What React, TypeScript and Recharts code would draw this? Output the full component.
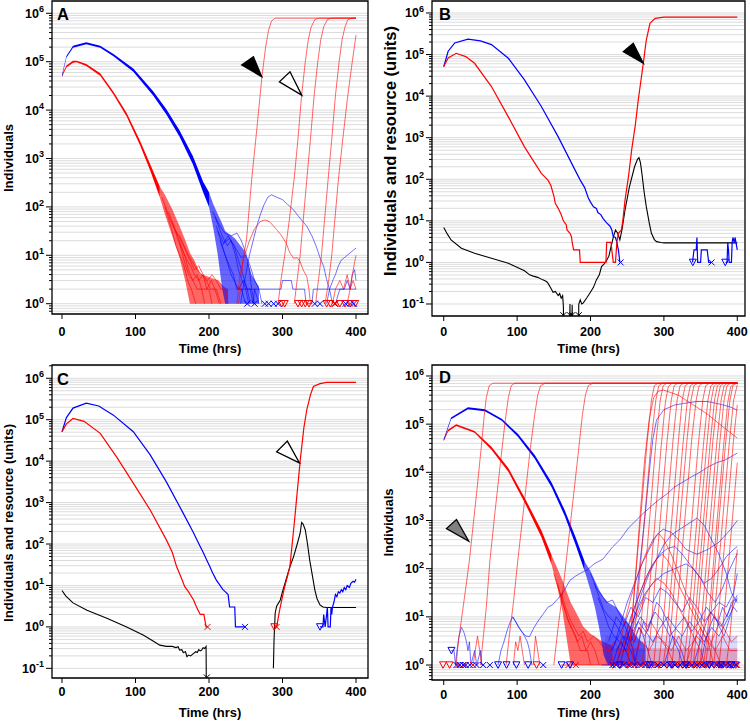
import React from 'react';
import { ComposedChart, Line, Area, XAxis, YAxis, CartesianGrid, ReferenceArea } from 'recharts';

const FONT = '"Liberation Sans", Arial, Helvetica, sans-serif';
const RED = '#ff0000';
const BLUE = '#0000ff';
const BLACK = '#000000';
const GRAY = '#808080';

const timeTicks = [0, 100, 200, 300, 400];
const decades = [-1, 0, 1, 2, 3, 4, 5, 6];
const mantissas = [1, 2, 3, 4, 5, 6, 7, 8, 9];

// All values below: [time (hrs), log10(count)] or [time, log10(low), log10(high)]

// ---------------- Panel A ----------------
const aRedCore = [[0,4.69,4.73],[6,4.88,4.92],[15,4.98,5.02],[20,4.99,5.02],[33,4.91,4.95],[52,4.71,4.76],[70,4.32,4.38],[88,3.87,3.94],[106,3.28,3.37],[120,2.75,2.88],[133,2.2,2.42]];
const aRedFan = [[133,2.2,2.42],[140,1.85,2.25],[150,1.4,1.95],[160,0.95,1.6],[168,0.45,1.3],[174,0,1.05],[180,0,0.9],[188,0,0.62],[200,0,0.55],[213,0,0.48],[220,0,0.35],[226,0,0.3]];
const aBlueCore = [[0,4.69,4.73],[6,5.08,5.12],[15,5.29,5.33],[33,5.36,5.4],[52,5.29,5.33],[70,5.11,5.16],[97,4.79,4.86],[124,4.3,4.39],[142,3.91,4.02],[160,3.45,3.58],[178,2.88,3.05],[192,2.3,2.52],[200,2.0,2.3]];
const aBlueFan = [[200,2.0,2.3],[206,1.55,2.05],[212,1.0,1.85],[218,0.3,1.65],[222,0,1.5],[235,0,1.35],[248,0,1.1],[258,0,0.6],[268,0,0.35]];
const aRedTail1 = [[145,1.9],[152,1.6],[158,1.3],[164,1.1],[170,0.9],[175,0.78],[180,0.6],[186,0.48],[192,0.6],[197,0.3],[203,0.48],[208,0.3],[214,0]];
const aRedTail2 = [[150,1.7],[156,1.45],[162,1.2],[168,0.95],[172,0.7],[178,0.48],[184,0.3],[190,0.3],[194,0]];
const aRedTail3 = [[140,2.0],[148,1.6],[155,1.2],[160,1.0],[166,0.78],[171,0.48],[176,0.3],[182,0]];
const aRedTail4 = [[155,1.5],[162,1.3],[168,1.1],[174,0.9],[180,0.7],[186,0.78],[192,0.6],[198,0.48],[204,0.6],[210,0.48],[216,0.3],[222,0.3],[226,0]];
const aRedTail5 = [[160,1.25],[166,0.9],[172,0.6],[178,0.48],[184,0.6],[190,0.3],[200,0.3],[204,0]];
const aRedTail6 = [[136,2.2],[142,1.95],[148,1.7],[154,1.5],[160,1.4],[166,1.2],[172,1.0],[178,0.85],[184,0.7],[190,0.6],[196,0.48],[202,0.3],[210,0.3],[216,0]];
const aBlueTail1 = [[205,1.9],[215,1.6],[222,1.45],[230,1.4],[238,1.46],[244,1.3],[250,1.05],[255,0.7],[258,0.3],[262,0]];
const aBlueTail2 = [[208,1.8],[218,1.4],[225,1.2],[230,1.3],[236,1.0],[240,0.7],[245,0.48],[250,0.3],[254,0]];
const aBlueTail3 = [[210,1.6],[218,1.2],[224,0.9],[230,0.6],[234,0.48],[240,0.3],[247,0.48],[252,0.3],[256,0]];
const aBlueTail4 = [[212,1.5],[220,1.25],[228,1.35],[234,1.2],[240,0.9],[246,0.6],[252,0.3],[262,0.3],[268,0]];
const aBlueTail5 = [[215,1.3],[222,1.0],[228,0.78],[233,0.6],[238,0.3],[244,0.3],[250,0]];
const aBlueTail6 = [[218,1.2],[226,1.4],[232,1.25],[238,1.1],[244,0.95],[250,1.0],[256,0.78],[262,0.48],[268,0.3],[272,0]];
const aBlueTwo = [[240,0.3],[256,0.3],[260,0],[262,0.3],[298,0.3],[300,0.48],[312,0.48],[314,0.3],[330,0.3],[332,0],[340,0],[342,0.3],[400,0.3]];
const aBlueHump = [[243,0],[246,0.3],[250,0.6],[255,1.0],[260,1.3],[265,1.6],[270,1.85],[275,2.05],[280,2.2],[285,2.25],[292,2.2],[300,2.15],[307,2.05],[315,1.94],[322,1.8],[333,1.6],[340,1.4],[346,1.18],[351,0.95],[356,0.77],[360,0.5],[364,0.29],[368,0]];
const aRedHump = [[238,0],[242,0.6],[248,0.98],[255,1.3],[262,1.55],[270,1.7],[276,1.73],[282,1.7],[288,1.6],[292,1.53],[298,1.42],[305,1.25],[310,1.05],[315,0.94],[320,0.95],[324,0.87],[328,0.7],[333,0.56],[336,0.3],[338,0]];
const aBlueEnd1 = [[360,0],[364,0.3],[369,0.5],[372,0.6],[376,0.78],[380,0.9],[384,0.95],[388,1.0],[392,1.05],[396,1.1],[400,1.15]];
const aBlueEnd2 = [[372,0],[378,0.3],[384,0.3],[388,0.48],[392,0.3],[395,0.6],[398,0.7],[400,0.48]];
const aRedEnd1 = [[388,0],[392,0.3],[395,0.6],[398,0.85],[400,1.0]];
const aRedEnd2 = [[368,0],[372,0.3],[378,0.48],[383,0.3],[388,0.6],[392,0.3],[396,0.48],[400,0.3]];
const aRedRise1 = [[240,0],[243,0.3],[246,0.9],[251,1.32],[258,2.56],[265,3.6],[272,4.69],[277,5.3],[281,5.65],[285,5.84],[290,5.9],[400,5.9]];
const aRedRise2 = [[294,0],[298,0.5],[303,1.0],[309,1.7],[316,2.6],[321,3.4],[326,4.31],[331,5.0],[335,5.45],[339,5.72],[344,5.87],[350,5.9],[400,5.9]];
const aRedRise3 = [[316,0],[320,0.5],[324,1.0],[328,1.7],[333,2.56],[338,3.4],[343,4.3],[348,5.0],[352,5.45],[356,5.72],[361,5.87],[367,5.9],[400,5.9]];
const aRedRise4 = [[345,0],[349,0.5],[353,1.0],[357,1.7],[362,2.56],[367,3.4],[372,4.3],[377,5.0],[381,5.45],[385,5.72],[389,5.87],[395,5.9],[400,5.9]];
const aRedRise5 = [[358,0],[363,0.5],[367,1.0],[371,1.7],[376,2.56],[382,3.4],[388,4.2],[394,4.9],[400,5.55]];
const aRedTri = [299, 303, 321, 326, 331, 336, 360, 365, 378, 385, 392, 399];
const aBlueX = [252, 262, 276, 281, 288, 294, 344, 351, 371, 386, 397];
const aRedX = [372, 392];

// ---------------- Panel B ----------------
const bBlue = [[0,4.71],[6,5.08],[15,5.28],[33,5.37],[50,5.33],[65,5.24],[88,4.91],[110,4.39],[133,3.75],[156,3.02],[179,2.22],[186,1.98],[192,1.8],[197,1.55],[200,1.45],[204,1.34],[208,1.3],[210,1.2],[214,1.15],[217,1.06],[222,0.95],[225,0.9],[227,0.86],[229,0.78],[231,0.62],[234,0.6],[236,0.48],[237,0.38],[238,0.3],[240,0]];
const bRed = [[0,4.71],[6,4.92],[17,5.03],[30,4.95],[42,4.79],[65,4.23],[88,3.5],[110,2.78],[133,2.14],[142,1.98],[146,1.85],[150,1.6],[152,1.42],[156,1.3],[160,1.15],[163,1.0],[167,0.9],[168,0.78],[172,0.7],[174,0.62],[175,0.48],[177,0.3],[185,0.3],[186,0],[221,0],[222,0.48],[228,0.48],[229,0.3],[231,0],[234,0],[236,0.5],[238,0.7],[242,0.78],[244,1.0],[247,1.5],[252,2.1],[256,2.7],[261,3.3],[265,3.9],[272,4.8],[276,5.35],[281,5.75],[288,5.87],[300,5.9],[400,5.9]];
const bBlack = [[0,0.84],[5,0.68],[10,0.54],[24,0.34],[42,0.22],[65,0.1],[88,-0.02],[110,-0.2],[117,-0.3],[122,-0.33],[128,-0.36],[135,-0.42],[140,-0.46],[142,-0.5],[146,-0.62],[149,-0.72],[152,-0.7],[156,-0.8],[158,-0.75],[160,-0.86],[162,-0.8],[163,-1.05],[165,-3],[171,-3],[172,-1.0],[173,-3],[175,-1.02],[176,-3],[183,-3],[184,-1.0],[186,-0.9],[188,-1.0],[190,-0.98],[195,-0.85],[199,-0.74],[204,-0.6],[208,-0.42],[212,-0.3],[215,-0.1],[218,-0.05],[221,0.02],[225,0.15],[228,0.38],[231,0.6],[234,0.78],[237,0.7],[240,0.54],[243,0.8],[247,1.26],[253,1.82],[260,2.3],[264,2.48],[266,2.52],[268,2.4],[270,2.14],[273,1.7],[276,1.34],[280,0.95],[283,0.7],[287,0.55],[290,0.5],[296,0.48],[300,0.47],[400,0.47]];
const bBlueEnd1 = [[339,0],[341,0.3],[344,0.3],[345,0.6],[346,0],[350,0],[351,0.3],[359,0.3],[361,0],[365,0]];
const bBlueEnd2 = [[384,0],[386,0],[387,0.48],[388,0.3],[389,0],[392,0],[393,0.48],[394,0.6],[396,0.48],[397,0.6],[398,0.5],[400,0.3]];
const bBlueX = [241, 365];
const bBlueTri = [339.4, 383.6];
const bBlackX = [163, 172, 175, 184];

// ---------------- Panel C ----------------
const cBlue = [[0,4.71],[6,5.05],[15,5.28],[33,5.4],[50,5.33],[70,5.11],[97,4.71],[120,4.15],[142,3.5],[165,2.74],[178,2.3],[188,1.94],[192,1.8],[197,1.61],[200,1.5],[205,1.3],[210,1.13],[215,1.0],[219,0.9],[222,0.85],[226,0.78],[228,0.48],[235,0.48],[236,0],[249,0]];
const cRed = [[0,4.71],[6,4.9],[15,5.03],[30,4.96],[52,4.67],[74,4.11],[97,3.47],[120,2.82],[142,2.1],[150,1.8],[156,1.45],[162,1.2],[167,0.97],[172,0.85],[179,0.65],[183,0.48],[188,0.3],[193,0.3],[196,0],[198,0]];
const cBlack1 = [[0,0.88],[5,0.75],[15,0.58],[34,0.4],[61,0.21],[88,0.0],[111,-0.2],[125,-0.35],[133,-0.44],[142,-0.47],[150,-0.47],[155,-0.5],[158,-0.48],[160,-0.56],[163,-0.55],[165,-0.62],[168,-0.6],[170,-0.72],[172,-0.68],[175,-0.7],[179,-0.64],[182,-0.6],[184,-0.62],[186,-0.55],[188,-0.58],[190,-0.56],[192,-0.5],[194,-0.52],[196,-0.47],[197,-3]];
const cBlack2 = [[287.6,-1.0],[288.5,-0.3],[290,0.33],[292,0.5],[297,0.65],[300,0.85],[306,1.21],[310,1.45],[315,1.69],[320,2.0],[324,2.26],[326,2.52],[328,2.48],[331,2.34],[334,2.0],[337,1.61],[341,1.2],[344,0.89],[347,0.68],[351,0.53],[355,0.48],[360,0.47],[400,0.47]];
const cRedRise = [[288.8,0],[292,0],[296,0.4],[302,0.9],[310,1.45],[316,2.5],[324,4.0],[329,4.8],[333,5.24],[338,5.6],[342,5.8],[351,5.87],[360,5.9],[400,5.9]];
const cBlueEnd = [[351,0],[355,0],[356,0.3],[358,0],[360,0.3],[361,0.48],[362,0],[365,0],[366,0.48],[367,0.3],[368,0.48],[370,0.6],[372,0.78],[374,0.73],[376,0.85],[378,0.82],[380,0.9],[382,0.85],[384,0.95],[386,0.9],[388,1.0],[391,0.95],[393,1.05],[396,1.1],[398,1.08],[400,1.15]];
const cRedX = [198, 292];
const cRedTri = [288.8];
const cBlueX = [249];
const cBlueTri = [351];
const cBlackX = [197];

// ---------------- Panel D ----------------
const dRedCore = [[0,4.65,4.69],[6,4.85,4.89],[17,4.96,5.0],[42,4.82,4.86],[65,4.47,4.53],[88,4.01,4.09],[110,3.38,3.48],[133,2.66,2.8],[147,2.08,2.28]];
const dRedFan = [[147,2.08,2.28],[155,1.6,2.0],[162,1.1,1.75],[168,0.5,1.5],[173,0,1.3],[180,0,1.1],[190,0,0.8],[200,0,0.65],[215,0,0.5],[230,0,0.4]];
const dBlueCore = [[0,4.65,4.69],[10,5.1,5.14],[33,5.31,5.35],[56,5.27,5.31],[79,5.07,5.11],[101,4.74,4.8],[124,4.28,4.36],[147,3.69,3.79],[165,3.09,3.21],[179,2.52,2.68],[192,1.95,2.15]];
const dBlueFan = [[192,1.95,2.15],[200,1.55,1.95],[206,1.2,1.75],[212,0.75,1.55],[218,0.2,1.4],[224,0,1.3],[235,0,1.2],[250,0,0.9],[262,0,0.6],[275,0,0.4]];
const dRedFloor = [[230,0,0.35],[400,0,0.35]];
const dBlueFloor = [[220,0,0.6],[400,0,0.6]];
const dEarly1 = [[17,0],[20,0.5],[24,0.93],[30,1.6],[35,2.18],[45,3.6],[51,4.5],[55,5.15],[58,5.55],[62,5.8],[67,5.85],[400,5.85]];
const dEarly2 = [[50,0],[54,0.6],[58,1.2],[63,2.18],[70,3.2],[78,4.3],[84,5.1],[88,5.55],[92,5.8],[97,5.85],[400,5.85]];
const dEarly3 = [[85,0],[90,0.7],[95,1.3],[101,2.18],[110,3.4],[118,4.5],[124,5.2],[128,5.6],[132,5.8],[138,5.85],[400,5.85]];
const dEarly4 = [[150,0],[156,0.8],[162,1.5],[167,2.18],[176,3.4],[184,4.5],[189,5.2],[193,5.6],[197,5.8],[203,5.85],[400,5.85]];
const dLate01 = [[250,0],[255,0.7],[277,4.6],[283,5.5],[287,5.8],[292,5.85],[400,5.85]];
const dLate02 = [[256,0],[261,0.8],[283,4.7],[289,5.5],[293,5.8],[298,5.85],[400,5.85]];
const dLate03 = [[262,0],[268,0.7],[289,4.6],[295,5.5],[299,5.8],[304,5.85],[400,5.85]];
const dLate04 = [[270,0],[275,0.6],[296,4.5],[302,5.45],[306,5.78],[311,5.85],[400,5.85]];
const dLate05 = [[277,0],[282,0.7],[304,4.6],[310,5.5],[314,5.8],[319,5.85],[400,5.85]];
const dLate06 = [[286,0],[291,0.8],[312,4.6],[318,5.5],[322,5.8],[327,5.85],[400,5.85]];
const dLate07 = [[293,0],[298,0.7],[320,4.7],[325,5.5],[329,5.8],[334,5.85],[400,5.85]];
const dLate08 = [[299,0],[304,0.6],[326,4.6],[332,5.5],[336,5.8],[341,5.85],[400,5.85]];
const dLate09 = [[304,0],[309,0.7],[331,4.6],[337,5.5],[341,5.8],[346,5.85],[400,5.85]];
const dLate10 = [[311,0],[316,0.8],[338,4.7],[344,5.5],[348,5.8],[353,5.85],[400,5.85]];
const dLate11 = [[320,0],[325,0.7],[347,4.6],[353,5.5],[357,5.8],[362,5.85],[400,5.85]];
const dLate12 = [[327,0],[332,0.7],[354,4.6],[360,5.5],[364,5.8],[369,5.85],[400,5.85]];
const dLate13 = [[331,0],[336,0.6],[358,4.5],[364,5.45],[368,5.78],[373,5.85],[400,5.85]];
const dLate14 = [[336,0],[341,0.7],[363,4.6],[369,5.5],[373,5.8],[378,5.85],[400,5.85]];
const dLate15 = [[340,0],[345,0.8],[367,4.7],[373,5.5],[377,5.8],[382,5.85],[400,5.85]];
const dLate16 = [[345,0],[350,0.7],[372,4.6],[378,5.5],[382,5.8],[387,5.85],[400,5.85]];
const dLate17 = [[349,0],[354,0.7],[376,4.6],[382,5.5],[386,5.8],[391,5.85],[400,5.85]];
const dLate18 = [[354,0],[359,0.6],[381,4.5],[387,5.45],[391,5.78],[396,5.85],[400,5.85]];
const dLate19 = [[357,0],[362,0.7],[384,4.6],[390,5.5],[394,5.8],[399,5.85],[400,5.85]];
const dLate20 = [[362,0],[367,0.7],[389,4.6],[395,5.5],[400,5.82]];
const dLate21 = [[368,0],[373,0.8],[395,4.7],[400,5.4]];
const dLate22 = [[375,0],[380,0.7],[400,4.2]];
const dLate23 = [[385,0],[390,0.6],[400,2.4]];
const dRedDecline = [[250,0],[256,0.8],[262,2.0],[268,3.2],[274,4.3],[280,5.1],[286,5.55],[292,5.68],[299,5.71],[320,5.6],[340,5.4],[360,5.2],[380,4.95],[400,4.71]];
const dRedHump1 = [[235,0],[245,0.8],[255,1.4],[265,1.9],[275,2.3],[285,2.6],[293,2.73],[300,2.6],[310,2.3],[320,1.9],[330,1.5],[340,1.2],[350,0.9],[360,0.6],[370,0.3],[378,0]];
const dRedHump2 = [[240,0],[250,0.7],[260,1.2],[270,1.6],[280,1.95],[290,2.2],[298,2.3],[306,2.15],[314,1.9],[322,1.6],[332,1.3],[342,1.0],[352,0.7],[360,0.48],[368,0]];
const dRedHump3 = [[250,0.3],[260,0.9],[270,1.3],[280,1.6],[290,1.8],[300,1.7],[310,1.5],[320,1.2],[330,0.9],[340,0.6],[350,0.3],[356,0]];
const dRedNoise1 = [[40,0],[43,0.3],[46,0.6],[49,0.3],[52,0]];
const dRedNoise2 = [[95,0],[98,0.48],[101,0.3],[104,0.6],[107,0.3],[110,0]];
const dRedNoise3 = [[122,0],[125,0.6],[128,0.3],[131,0]];
const dRedNoise4 = [[225,0.3],[232,0.48],[240,0.3],[250,0.6],[260,0.3],[270,0.48],[280,0.3],[290,0.6],[300,0.48],[310,0.3],[320,0.6],[330,0.3],[340,0.48],[350,0.78],[360,0.48],[370,0.3],[380,0.6],[390,0.3],[400,0.3]];
const dRedNoise5 = [[235,0],[242,0.3],[250,0.3],[258,0.48],[266,0.78],[274,0.6],[282,0.9],[290,0.7],[298,0.48],[306,0.3],[314,0],[330,0],[336,0.3],[344,0.6],[352,0.48],[360,0.3],[368,0.6],[376,0.9],[384,0.7],[392,0.48],[400,0.6]];
const dRedTail1 = [[150,1.9],[158,1.5],[164,1.2],[170,0.9],[176,0.7],[182,0.48],[188,0.6],[194,0.3],[200,0.48],[206,0.3],[212,0]];
const dRedTail2 = [[155,1.7],[162,1.3],[168,1.0],[174,0.78],[180,0.6],[186,0.3],[196,0.3],[200,0]];
const dRedTail3 = [[160,1.5],[166,1.2],[172,0.95],[178,0.78],[184,0.6],[190,0.7],[196,0.48],[204,0.6],[212,0.48],[220,0.3],[228,0.3],[232,0]];
const dRedOne = [[160,0],[400,0]];
const dBlueLong = [[74,0],[78,0.3],[82,0.48],[86,0.7],[90,0.87],[94,1.0],[100,0.85],[106,0.7],[112,0.6],[117,0.59],[122,0.75],[128,0.9],[136,1.07],[142,1.2],[148,1.25],[154,1.35],[160,1.45],[166,1.6],[172,1.76],[180,1.85],[188,1.92],[195,1.97],[205,2.1],[217,2.2],[230,2.45],[240,2.6],[252,2.85],[262,3.0],[272,3.15],[283,3.3],[293,3.43],[304,3.55],[315,3.7],[326,3.8],[338,3.91],[349,4.0],[361,4.12],[372,4.2],[384,4.26],[392,4.33],[400,4.4]];
const dBlueEarly1 = [[10,0.3],[14,0.3],[16,0],[18,0.3],[21,0.6],[24,0.78],[27,0.7],[29,0.6],[31,0.48],[33,0.3],[35,0.48],[37,0],[42,0.3],[45,0],[50,0.3],[52,0]];
const dBlueEarly2 = [[94,1.0],[98,0.9],[102,0.78],[106,0.7],[110,0.6],[114,0.48],[117,0.3],[120,0]];
const dBlueBig = [[255,0.5],[262,1.3],[268,2.2],[275,3.2],[280,4.0],[285,4.7],[290,5.09],[300,5.3],[315,5.4],[327,5.43],[345,5.47],[359,5.47],[375,5.42],[390,5.36],[400,5.29]];
const dBlueH1 = [[240,0],[250,0.6],[260,1.0],[270,1.5],[280,1.9],[290,2.2],[300,2.5],[310,2.7],[320,2.8],[330,2.9],[345,3.05],[355,2.9],[365,2.6],[375,2.3],[385,1.9],[392,1.5],[400,1.3]];
const dBlueH2 = [[230,0.3],[240,0.8],[250,1.3],[260,1.7],[270,2.1],[280,2.4],[290,2.7],[299,2.82],[310,2.75],[320,2.6],[330,2.4],[345,2.3],[360,2.4],[375,2.55],[390,2.8],[400,3.0]];
const dBlueH3 = [[235,0],[245,0.5],[255,1.0],[265,1.4],[275,1.8],[285,2.1],[295,2.3],[305,2.42],[315,2.46],[325,2.3],[335,2.1],[345,1.9],[355,1.7],[365,1.8],[375,2.0],[385,2.25],[395,2.4],[400,2.46]];
const dBlueH4 = [[245,0.3],[255,0.8],[265,1.2],[275,1.5],[285,1.7],[300,1.9],[315,2.0],[330,2.1],[340,2.0],[350,1.8],[360,1.5],[370,1.3],[380,1.6],[390,2.0],[400,2.32]];
const dBlueH5 = [[225,0.5],[235,1.0],[245,0.8],[255,1.2],[265,1.0],[275,1.4],[285,1.3],[295,1.6],[305,1.5],[315,1.3],[325,1.1],[335,1.4],[345,1.2],[355,0.9],[365,1.1],[375,1.3],[385,1.2],[395,1.5],[400,1.9]];
const dBlueH6 = [[228,0.3],[238,0.6],[248,0.9],[258,0.7],[268,1.0],[278,0.8],[288,1.1],[298,0.9],[308,0.6],[318,0.8],[328,1.0],[338,0.7],[348,0.9],[358,1.2],[368,1.0],[378,0.8],[388,1.1],[396,1.35],[400,1.35]];
const dBlueH7 = [[230,0],[236,0.3],[242,0.48],[248,0.3],[254,0.6],[260,0.48],[266,0.78],[272,0.6],[278,0.3],[284,0],[300,0],[306,0.3],[312,0.6],[318,0.48],[324,0.3],[330,0],[350,0],[356,0.48],[362,0.78],[368,1.0],[374,0.9],[380,1.2],[386,1.0],[392,1.3],[398,1.4],[400,1.45]];
const dBlueH8 = [[260,0],[266,0.48],[272,0.9],[278,0.7],[284,1.0],[290,1.3],[296,1.2],[302,1.0],[308,0.78],[314,0.48],[320,0.3],[326,0],[340,0],[346,0.3],[352,0.6],[358,0.9],[364,1.1],[370,1.0],[376,0.78],[382,0.6],[388,0.9],[394,1.2],[400,1.4]];
const dBlueTail1 = [[200,1.9],[208,1.6],[215,1.45],[222,1.3],[230,1.35],[238,1.1],[245,0.9],[252,0.6],[258,0.3],[262,0]];
const dBlueTail2 = [[205,1.7],[212,1.4],[218,1.15],[225,1.0],[232,0.9],[240,0.7],[248,0.48],[255,0.3],[262,0]];
const dBlueTail3 = [[210,1.4],[218,1.1],[225,0.78],[232,0.6],[240,0.48],[248,0.3],[256,0]];
const dBlueNoise = [[235,0.3],[245,0.6],[255,0.48],[265,0.9],[275,0.7],[285,0.48],[295,0.78],[305,1.0],[315,0.78],[325,0.6],[335,0.9],[345,0.7],[355,0.48],[365,0.78],[375,0.6],[385,0.9],[395,1.2],[400,1.1]];
const dBlueOne = [[215,0],[400,0]];
const dRedTri = [-1, 8, 126.5, 230, 240, 250, 262, 277, 283, 293, 304, 312, 320, 325, 331, 340, 345, 349, 357, 362, 368, 375, 380, 385, 390, 395, 398];
const dBlueTri = [74, 85.6, 99, 115, 160.6, 172, 240, 280, 310, 330, 362, 378, 392];
const dBlueTriTwo = [10.5];
const dBlueX = [17.3, 22, 26.4, 30, 35.5, 44.6, 53.7, 62.8, 135.6, 230, 235, 245, 252, 260, 268, 275, 283, 292, 300, 308, 315, 322, 330, 338, 345, 352, 358, 365, 372, 378, 384, 390, 398];
const dRedX = [20, 28, 40, 170, 180, 255, 270, 290, 315, 335, 355, 375, 390, 400];

// ---------------- rendering ----------------
type S = { pts: number[][]; color: string; w: number; op?: number };
type B = { rows: number[][]; color: string; op: number };
type M = { ts: number[]; color: string; kind: 'tri' | 'x'; at?: number };
type Arw = { t: number; l: number; fill: string; poly: number[][] };
type Cfg = {
  left: number; top: number; width: number; height: number;
  margin: { top: number; right: number; bottom: number; left: number };
  yW: number; xH: number; tickMargin: number;
  xDom: [number, number]; yLog: [number, number];
  bands: B[]; lines: S[]; marks: M[]; arrows: Arw[];
};

const pow = (l: number) => Math.pow(10, l);
const lineData = (pts: number[][]) => pts.map(([t, l]) => ({ t, v: pow(l) }));
const bandData = (rows: number[][]) => rows.map(([t, lo, hi]) => ({ t, r: [pow(lo), pow(hi)] }));

function markShape(kind: 'tri' | 'x', color: string) {
  return (p: any) => {
    const { cx, cy, index } = p;
    if (cx == null || cy == null) return <g key={`k${index}`} />;
    if (kind === 'tri')
      return <path key={`k${index}`} d={`M${cx - 3.5},${cy - 3.2}L${cx + 3.5},${cy - 3.2}L${cx},${cy + 3.3}Z`} fill="none" stroke={color} strokeWidth={1} />;
    return <path key={`k${index}`} d={`M${cx - 3},${cy - 3}L${cx + 3},${cy + 3}M${cx - 3},${cy + 3}L${cx + 3},${cy - 3}`} fill="none" stroke={color} strokeWidth={1} />;
  };
}

function arrowShape(a: Arw) {
  return (p: any) => {
    const { cx, cy, index } = p;
    if (cx == null || cy == null) return <g key={`a${index}`} />;
    const d = a.poly.map(([dx, dy], i) => `${i ? 'L' : 'M'}${cx + dx},${cy + dy}`).join('') + 'Z';
    return <path key={`a${index}`} d={d} fill={a.fill} stroke="#000" strokeWidth={1.3} strokeLinejoin="miter" />;
  };
}

function Panel({ c }: { c: Cfg }) {
  const yDom: [number, number] = [pow(c.yLog[0]), pow(c.yLog[1])];
  const yTicks: number[] = [];
  decades.forEach((k) => mantissas.forEach((m) => {
    const v = m * pow(k);
    if (v >= yDom[0] && v <= yDom[1]) yTicks.push(v);
  }));
  const boxLeft = c.margin.left + c.yW;
  const yTick = (p: any) => {
    const v = p.payload.value;
    const lg = Math.log10(v);
    const k = Math.round(lg);
    const major = Math.abs(lg - k) < 1e-6;
    const y = p.y;
    return (
      <g key={`yt${v}`}>
        <line x1={boxLeft - (major ? 6 : 3)} x2={boxLeft} y1={y} y2={y} stroke="#000" strokeWidth={1} />
        {major ? (
          <text x={boxLeft - 8} y={y + 4.5} textAnchor="end" fontFamily={FONT} fontWeight={700} fontSize={12.5} fill="#000">
            10<tspan dy={-5.5} fontSize={9}>{k}</tspan>
          </text>
        ) : null}
      </g>
    );
  };
  return (
    <div style={{ position: 'absolute', left: c.left, top: c.top }}>
      <ComposedChart width={c.width} height={c.height} margin={c.margin}>
        <CartesianGrid vertical={false} stroke="#dcdcdc" strokeWidth={1} />
        <XAxis type="number" dataKey="t" domain={c.xDom} ticks={timeTicks} interval={0} allowDataOverflow
          axisLine={false} tickLine={{ stroke: '#000' }} tickSize={5} tickMargin={c.tickMargin} height={c.xH}
          tick={{ fill: '#000', fontSize: 12.5, fontWeight: 700, fontFamily: FONT }} />
        <YAxis type="number" scale="log" domain={yDom} allowDataOverflow ticks={yTicks} interval={0} width={c.yW}
          axisLine={false} tickLine={false} tick={yTick} />
        {c.bands.map((b, i) => (
          <Area key={`b${i}`} data={bandData(b.rows)} dataKey="r" type="linear" stroke="none" fill={b.color}
            fillOpacity={b.op} isAnimationActive={false} dot={false} activeDot={false} />
        ))}
        {c.lines.map((s, i) => (
          <Line key={`l${i}`} data={lineData(s.pts)} dataKey="v" type="linear" stroke={s.color} strokeWidth={s.w}
            strokeOpacity={s.op ?? 1} dot={false} activeDot={false} isAnimationActive={false} />
        ))}
        {c.marks.map((m, i) => (
          <Line key={`m${i}`} data={m.ts.map((t) => ({ t, v: pow(m.at ?? 0) }))} dataKey="v" stroke="none"
            dot={markShape(m.kind, m.color)} activeDot={false} isAnimationActive={false} />
        ))}
        {c.arrows.map((a, i) => (
          <Line key={`a${i}`} data={[{ t: a.t, v: pow(a.l) }]} dataKey="v" stroke="none"
            dot={arrowShape(a)} activeDot={false} isAnimationActive={false} />
        ))}
        <ReferenceArea x1={c.xDom[0]} x2={c.xDom[1]} y1={yDom[0]} y2={yDom[1]} fill="none" fillOpacity={0}
          stroke="#000" strokeWidth={1.3} ifOverflow="visible" />
      </ComposedChart>
    </div>
  );
}

const thinR = (pts: number[][]): S => ({ pts, color: RED, w: 0.7, op: 0.85 });
const thinB = (pts: number[][]): S => ({ pts, color: BLUE, w: 0.7, op: 0.8 });

const cfgA: Cfg = {
  left: 0, top: 0, width: 375, height: 360, margin: { top: 1, right: 7, bottom: 0, left: 0 },
  yW: 52, xH: 46, tickMargin: 8, xDom: [-13.6, 416.3], yLog: [-0.213, 6.254],
  bands: [
    { rows: aRedCore, color: RED, op: 1 }, { rows: aRedFan, color: RED, op: 0.6 },
    { rows: aBlueCore, color: BLUE, op: 1 }, { rows: aBlueFan, color: BLUE, op: 0.6 },
  ],
  lines: [
    ...[aRedTail1, aRedTail2, aRedTail3, aRedTail4, aRedTail5, aRedTail6].map(thinR),
    ...[aBlueTail1, aBlueTail2, aBlueTail3, aBlueTail4, aBlueTail5, aBlueTail6, aBlueTwo].map(thinB),
    thinB(aBlueHump), thinR(aRedHump), thinB(aBlueEnd1), thinB(aBlueEnd2), thinR(aRedEnd1), thinR(aRedEnd2),
    ...[aRedRise1, aRedRise2, aRedRise3, aRedRise4, aRedRise5].map(thinR),
  ],
  marks: [
    { ts: aRedTri, color: RED, kind: 'tri' }, { ts: aBlueX, color: BLUE, kind: 'x' }, { ts: aRedX, color: RED, kind: 'x' },
  ],
  arrows: [
    { t: 271.7, l: 4.69, fill: '#000', poly: [[0, 0], [-20, -11.7], [-8.3, -20]] },
    { t: 326.1, l: 4.31, fill: '#fff', poly: [[0, 0], [-22.3, -13.3], [-11.7, -23.3]] },
  ],
};

const cfgB: Cfg = {
  left: 375, top: 0, width: 375, height: 360, margin: { top: 1, right: 5, bottom: 0, left: 0 },
  yW: 57, xH: 44, tickMargin: 6, xDom: [-16, 410.5], yLog: [-1.289, 6.288],
  bands: [],
  lines: [
    { pts: bBlack, color: BLACK, w: 1.1 },
    { pts: bBlue, color: BLUE, w: 1.2 },
    { pts: bRed, color: RED, w: 1.2 },
    { pts: bBlueEnd1, color: BLUE, w: 1.2 },
    { pts: bBlueEnd2, color: BLUE, w: 1.2 },
  ],
  marks: [
    { ts: bBlueX, color: BLUE, kind: 'x' }, { ts: bBlueTri, color: BLUE, kind: 'tri' },
    { ts: bBlackX, color: BLACK, kind: 'x', at: -1.27 },
  ],
  arrows: [{ t: 271.9, l: 4.79, fill: '#000', poly: [[0, 0], [-20, -11.7], [-10, -20]] }],
};

const cfgC: Cfg = {
  left: 0, top: 360, width: 375, height: 361, margin: { top: 5, right: 7, bottom: 0, left: 0 },
  yW: 52, xH: 43, tickMargin: 4, xDom: [-13.6, 416.3], yLog: [-1.233, 6.32],
  bands: [],
  lines: [
    { pts: cBlack1, color: BLACK, w: 1.1 },
    { pts: cBlack2, color: BLACK, w: 1.1 },
    { pts: cBlue, color: BLUE, w: 1.2 },
    { pts: cRed, color: RED, w: 1.2 },
    { pts: cRedRise, color: RED, w: 1.2 },
    { pts: cBlueEnd, color: BLUE, w: 1.2 },
  ],
  marks: [
    { ts: cRedX, color: RED, kind: 'x' }, { ts: cRedTri, color: RED, kind: 'tri' },
    { ts: cBlueX, color: BLUE, kind: 'x' }, { ts: cBlueTri, color: BLUE, kind: 'tri' },
    { ts: cBlackX, color: BLACK, kind: 'x', at: -1.22 },
  ],
  arrows: [{ t: 322.9, l: 3.96, fill: '#fff', poly: [[0, 0], [-22.7, -11], [-12, -21.7]] }],
};

const cfgD: Cfg = {
  left: 375, top: 360, width: 375, height: 361, margin: { top: 5, right: 5, bottom: 0, left: 0 },
  yW: 57, xH: 41, tickMargin: 5, xDom: [-16, 410.5], yLog: [-0.311, 6.228],
  bands: [
    { rows: dRedFloor, color: RED, op: 0.25 }, { rows: dBlueFloor, color: BLUE, op: 0.15 },
    { rows: dRedCore, color: RED, op: 1 }, { rows: dRedFan, color: RED, op: 0.6 },
    { rows: dBlueCore, color: BLUE, op: 1 }, { rows: dBlueFan, color: BLUE, op: 0.6 },
  ],
  lines: [
    ...[dRedOne, dRedNoise1, dRedNoise2, dRedNoise3, dRedNoise4, dRedNoise5, dRedTail1, dRedTail2, dRedTail3].map(thinR),
    ...[dBlueOne, dBlueNoise, dBlueEarly1, dBlueEarly2, dBlueLong, dBlueH1, dBlueH2, dBlueH3, dBlueH4, dBlueH5, dBlueH6, dBlueH7, dBlueH8, dBlueBig, dBlueTail1, dBlueTail2, dBlueTail3].map(thinB),
    ...[dEarly1, dEarly2, dEarly3, dEarly4, dRedDecline, dRedHump1, dRedHump2, dRedHump3].map(thinR),
    ...[dLate01, dLate02, dLate03, dLate04, dLate05, dLate06, dLate07, dLate08, dLate09, dLate10, dLate11, dLate12,
      dLate13, dLate14, dLate15, dLate16, dLate17, dLate18, dLate19, dLate20, dLate21, dLate22, dLate23].map(thinR),
  ],
  marks: [
    { ts: dRedTri, color: RED, kind: 'tri' }, { ts: dRedX, color: RED, kind: 'x' },
    { ts: dBlueTri, color: BLUE, kind: 'tri' }, { ts: dBlueX, color: BLUE, kind: 'x' },
    { ts: dBlueTriTwo, color: BLUE, kind: 'tri', at: 0.3 },
  ],
  arrows: [{ t: 34.1, l: 2.57, fill: GRAY, poly: [[0, 0], [-22.3, -12.7], [-12.3, -21.7]] }],
};

const txt = { fontFamily: FONT, fontWeight: 700, fill: '#000' } as const;

export default function App() {
  return (
    <div style={{ position: 'absolute', left: 0, top: 0, width: 750, height: 721, background: '#fff', overflow: 'hidden' }}>
      <Panel c={cfgA} />
      <Panel c={cfgB} />
      <Panel c={cfgC} />
      <Panel c={cfgD} />
      <svg width={750} height={721} style={{ position: 'absolute', left: 0, top: 0, pointerEvents: 'none' }}>
        <text x={57} y={20} fontSize={16.5} {...txt}>A</text>
        <text x={439} y={20} fontSize={16.5} {...txt}>B</text>
        <text x={57} y={385} fontSize={16.5} {...txt}>C</text>
        <text x={439} y={383} fontSize={16.5} {...txt}>D</text>
        <text x={210} y={352.5} fontSize={13} textAnchor="middle" {...txt}>Time (hrs)</text>
        <text x={588.5} y={352.5} fontSize={13} textAnchor="middle" {...txt}>Time (hrs)</text>
        <text x={210} y={717} fontSize={13} textAnchor="middle" {...txt}>Time (hrs)</text>
        <text x={588.5} y={717} fontSize={13} textAnchor="middle" {...txt}>Time (hrs)</text>
        <text transform="translate(8,158) rotate(-90)" fontSize={13} textAnchor="middle" dominantBaseline="central" textLength={68} lengthAdjust="spacingAndGlyphs" {...txt}>Individuals</text>
        <text transform="translate(390,151) rotate(-90)" fontSize={16} textAnchor="middle" dominantBaseline="central" textLength={250} lengthAdjust="spacingAndGlyphs" {...txt}>Individuals and resource (units)</text>
        <text transform="translate(8,523) rotate(-90)" fontSize={13} textAnchor="middle" dominantBaseline="central" textLength={198} lengthAdjust="spacingAndGlyphs" {...txt}>Individuals and resource (units)</text>
        <text transform="translate(388,522.5) rotate(-90)" fontSize={13} textAnchor="middle" dominantBaseline="central" textLength={68} lengthAdjust="spacingAndGlyphs" {...txt}>Individuals</text>
      </svg>
    </div>
  );
}
